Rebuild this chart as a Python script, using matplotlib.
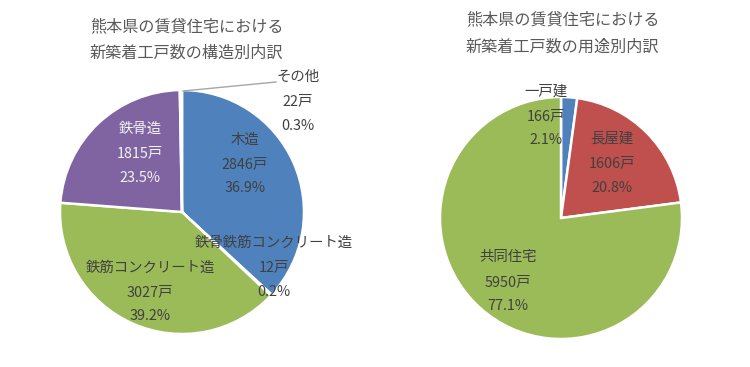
import numpy as np
import matplotlib.pyplot as plt

plt.rcParams['font.family'] = ['Noto Sans CJK JP', 'DejaVu Sans']

# structure breakdown (left pie)
struct_names = ["木造", "鉄骨鉄筋コンクリート造", "鉄筋コンクリート造", "鉄骨造", "その他"]
struct_counts = [2846, 12, 3027, 1815, 22]
struct_colors = ["#4F81BD", "#4BACC6", "#9BBB59", "#8064A2", "#F79646"]

# usage breakdown (right pie)
use_names = ["一戸建", "長屋建", "共同住宅"]
use_counts = [166, 1606, 5950]
use_colors = ["#4F81BD", "#C0504D", "#9BBB59"]

W, H = 750, 367


def py(y):
    return H - y


fig = plt.figure(figsize=(7.5, 3.67), dpi=100)
ax = fig.add_axes([0, 0, 1, 1])

wp = dict(edgecolor="white", linewidth=1.8)

ax.pie(struct_counts, colors=struct_colors, startangle=90, counterclock=False,
       center=(182, py(212)), radius=122, wedgeprops=wp, frame=True)
ax.pie(use_counts, colors=use_colors, startangle=90, counterclock=False,
       center=(561, py(218)), radius=121, wedgeprops=wp, frame=True)
ax.set_xlim(0, W)
ax.set_ylim(0, H)
ax.set_aspect("equal")
ax.axis("off")


def pct(v, tot):
    return f"{v / tot * 100:.1f}%"


def label(x, y, name, val, tot, color="#404040"):
    lines = [name, f"{val}戸", pct(val, tot)]
    for i, s in enumerate(lines):
        ax.text(x, py(y + (i - 1) * 24.5), s, ha="center", va="center",
                fontsize=10.4, color=color)


st = sum(struct_counts)
label(245, 164, struct_names[0], struct_counts[0], st)
label(274, 267, struct_names[1], struct_counts[1], st)
label(150, 292, struct_names[2], struct_counts[2], st)
label(140, 153, struct_names[3], struct_counts[3], st, color="#F2F2F2")
label(298, 101, struct_names[4], struct_counts[4], st)
ax.plot([183, 276], [py(91), py(82)], color="#A6A6A6", lw=1)

ut = sum(use_counts)
label(546, 116, use_names[0], use_counts[0], ut)
label(612, 163, use_names[1], use_counts[1], ut)
label(508, 282, use_names[2], use_counts[2], ut)

tc = "#595959"
ax.text(90, py(27), "熊本県の賃貸住宅における", ha="left", va="center", fontsize=11.6, color=tc)
ax.text(90, py(53), "新築着工戸数の構造別内訳", ha="left", va="center", fontsize=11.6, color=tc)
ax.text(466, py(20), "熊本県の賃貸住宅における", ha="left", va="center", fontsize=11.6, color=tc)
ax.text(466, py(47), "新築着工戸数の用途別内訳", ha="left", va="center", fontsize=11.6, color=tc)

fig.savefig("out.png", dpi=100, facecolor="white")
